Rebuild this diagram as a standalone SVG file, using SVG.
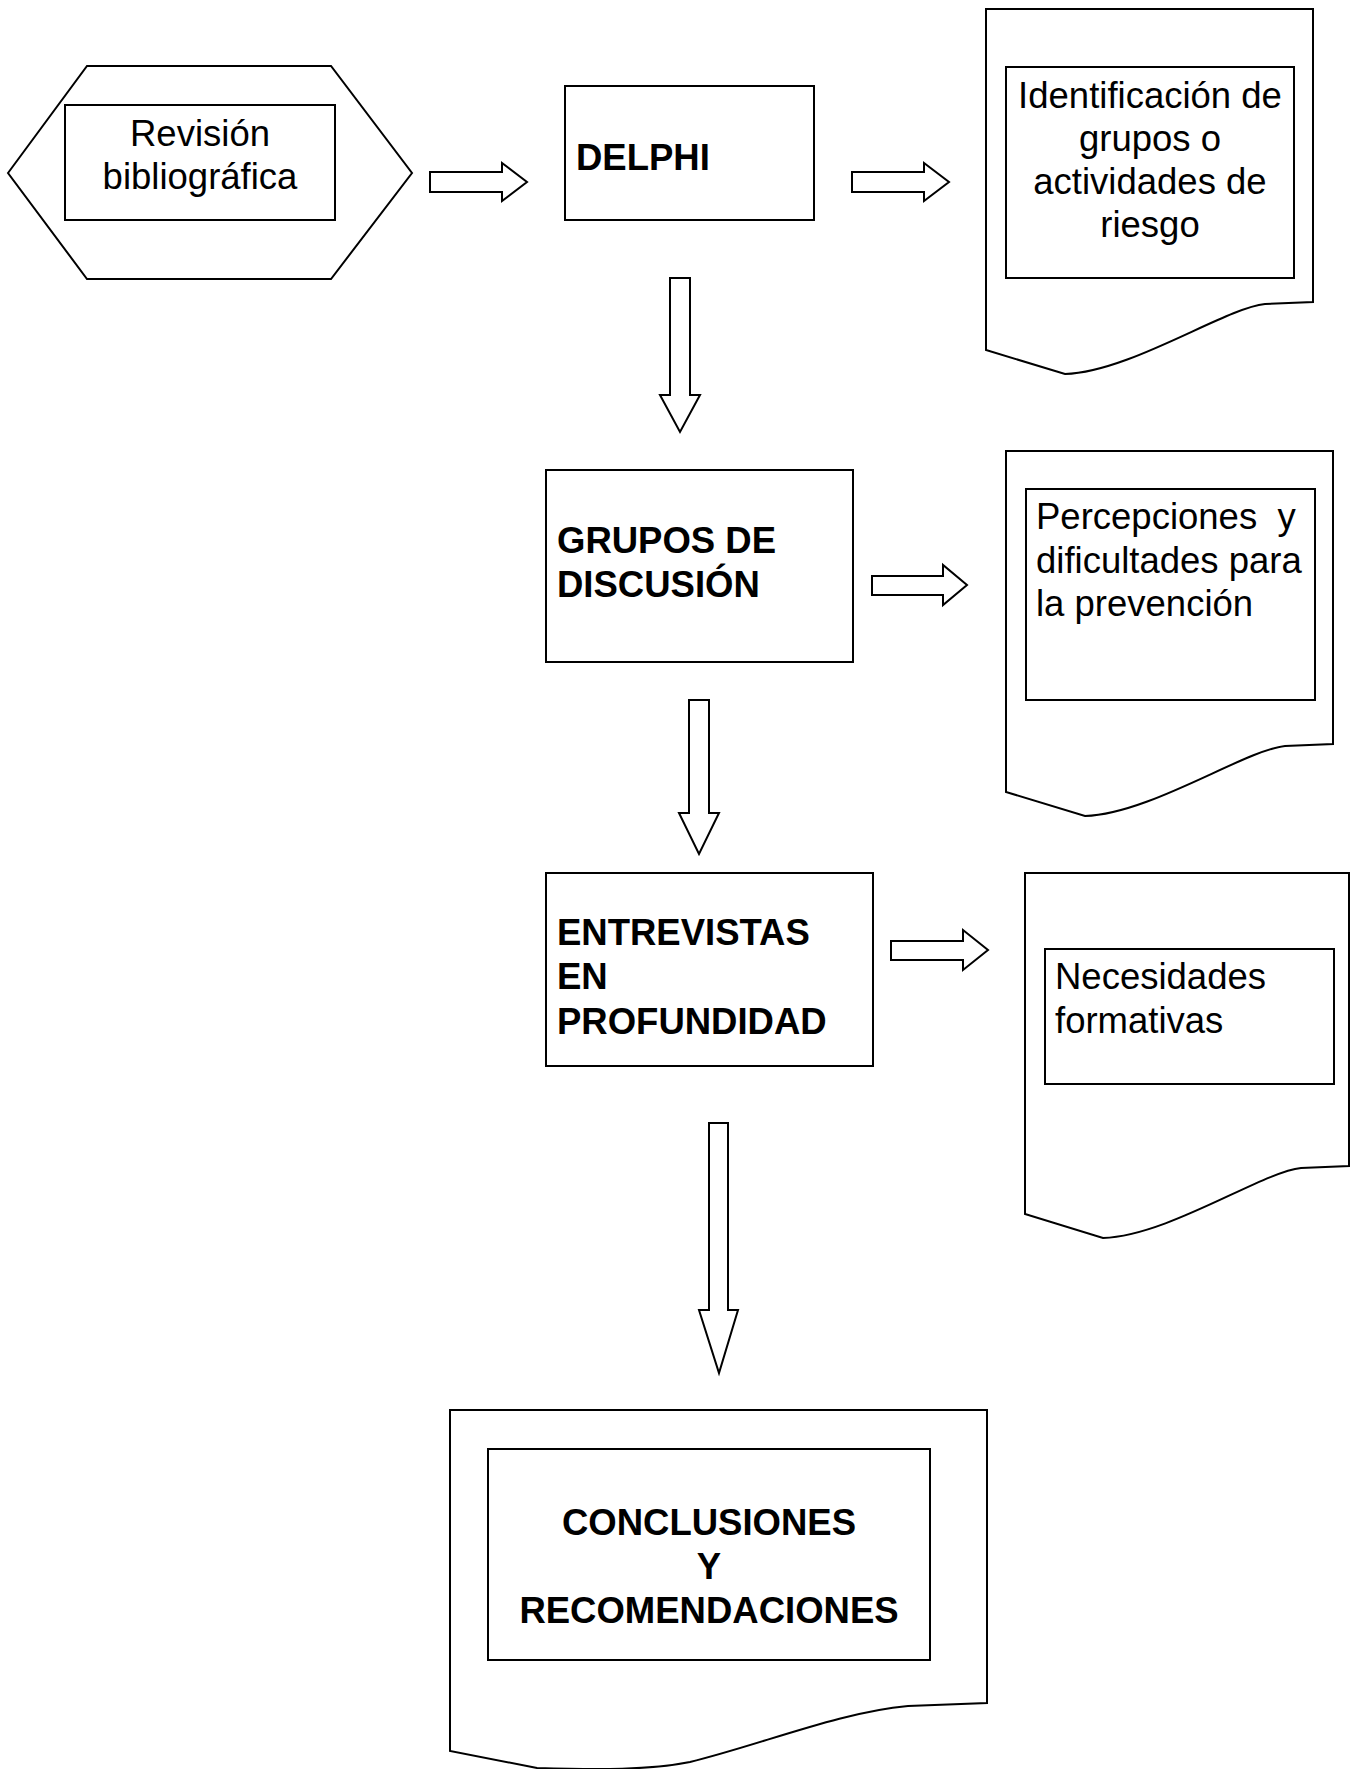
<svg xmlns="http://www.w3.org/2000/svg" width="1351" height="1769" viewBox="0 0 1351 1769">
<style>
.s{fill:#fff;stroke:#000;stroke-width:2;stroke-linejoin:miter}
.t{font-family:"Liberation Sans",Arial,sans-serif;font-size:36.5px;fill:#000}
.b{font-weight:bold}
.m{text-anchor:middle}
</style>
<rect width="1351" height="1769" fill="#fff"/>
<g id="revision">
<polygon class="s" points="8,173 87,66 331,66 412,173 331,279 87,279"/>
<rect class="s" x="65" y="105" width="270" height="115"/>
<text class="t m" x="200" y="146">Revisión</text>
<text class="t m" x="200" y="189">bibliográfica</text>
</g>
<g id="delphi">
<rect class="s" x="565" y="86" width="249" height="134"/>
<text class="t b" x="576" y="170">DELPHI</text>
</g>
<g id="identificacion">
<path class="s" d="M986,9 H1313 V302 L1265,304 C1225,308 1130,372 1065,374 L986,350 Z"/>
<rect class="s" x="1006" y="67" width="288" height="211"/>
<text class="t m" x="1150" y="108">Identificación de</text>
<text class="t m" x="1150" y="151">grupos o</text>
<text class="t m" x="1150" y="194">actividades de</text>
<text class="t m" x="1150" y="237">riesgo</text>
</g>
<g id="grupos">
<rect class="s" x="546" y="470" width="307" height="192"/>
<text class="t b" x="557" y="553">GRUPOS DE</text>
<text class="t b" x="557" y="597">DISCUSIÓN</text>
</g>
<g id="percepciones">
<path class="s" d="M1006,451 H1333 V744 L1285,746 C1245,750 1150,814 1085,816 L1006,792 Z"/>
<rect class="s" x="1026" y="489" width="289" height="211"/>
<text class="t" x="1036" y="529" xml:space="preserve">Percepciones  y</text>
<text class="t" x="1036" y="573">dificultades para</text>
<text class="t" x="1036" y="616">la prevención</text>
</g>
<g id="entrevistas">
<rect class="s" x="546" y="873" width="327" height="193"/>
<text class="t b" x="557" y="945">ENTREVISTAS</text>
<text class="t b" x="557" y="989">EN</text>
<text class="t b" x="557" y="1034">PROFUNDIDAD</text>
</g>
<g id="necesidades">
<path class="s" d="M1025,873 H1349 V1166 L1301,1168 C1262,1172 1168,1236 1103,1238 L1025,1214 Z"/>
<rect class="s" x="1045" y="949" width="289" height="135"/>
<text class="t" x="1055" y="989">Necesidades</text>
<text class="t" x="1055" y="1033">formativas</text>
</g>
<g id="conclusiones">
<path class="s" d="M450,1410 H987 V1703 L908,1706 C840,1712 760,1745 690,1762 C650,1770 600,1770 537,1768 L450,1751 Z"/>
<rect class="s" x="488" y="1449" width="442" height="211"/>
<text class="t b m" x="709" y="1535">CONCLUSIONES</text>
<text class="t b m" x="709" y="1579">Y</text>
<text class="t b m" x="709" y="1623">RECOMENDACIONES</text>
</g>
<g id="connectors">
<polygon class="s" points="430,172 502,172 502,163 527,182 502,201 502,192 430,192"/>
<polygon class="s" points="852,172 924,172 924,163 949,182 924,201 924,192 852,192"/>
<polygon class="s" points="872,576 943,576 943,565 967,585 943,605 943,595 872,595"/>
<polygon class="s" points="891,941 963,941 963,930 988,950 963,970 963,960 891,960"/>
<polygon class="s" points="670,278 690,278 690,395 700,395 680,432 660,395 670,395"/>
<polygon class="s" points="689,700 709,700 709,813 719,813 699,854 679,813 689,813"/>
<polygon class="s" points="709,1123 728,1123 728,1310 738,1310 719,1373 699,1310 709,1310"/>
</g>
</svg>
